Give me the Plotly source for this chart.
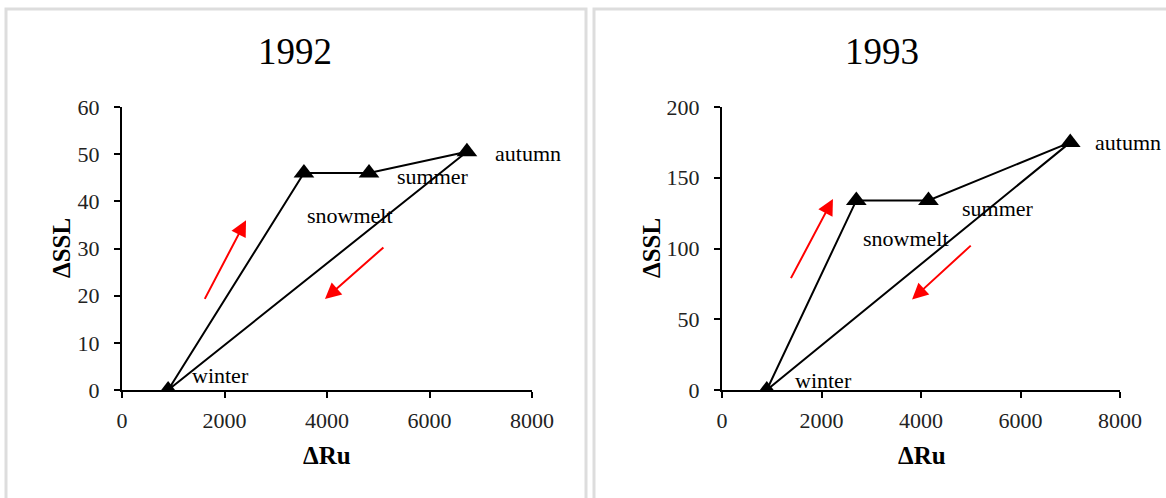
import plotly.graph_objects as go

# ---- data ----
seasons = ["winter", "snowmelt", "summer", "autumn"]
ru_1992 = [900, 3550, 4820, 6730]
ssl_1992 = [0, 46, 46, 50.5]
ru_1993 = [900, 2700, 4150, 7000]
ssl_1993 = [0, 134, 134, 175]

# arrows (tail -> head) in data units
arrows_1992 = [((1600, 19), (2420, 36)), ((5130, 30.5), (3960, 19.3))]
arrows_1993 = [((1370, 78), (2230, 135)), ((5030, 103), (3820, 64))]

# label anchor points (data units, left edge / vertical middle)
labels_1992 = {"winter": (1330, 3), "snowmelt": (3570, 37.1), "summer": (5320, 45.3), "autumn": (7240, 50.2)}
labels_1993 = {"winter": (1430, 7), "snowmelt": (2790, 107), "summer": (4780, 128.6), "autumn": (7460, 174.6)}

x_ticks = [0, 2000, 4000, 6000, 8000]
y_ticks_1992 = [0, 10, 20, 30, 40, 50, 60]
y_ticks_1993 = [0, 50, 100, 150, 200]

FONT = "Liberation Serif, Times New Roman, serif"
W, H = 1166, 498

fig = go.Figure()

def add_loop(xs, ys, xa, ya):
    lx = xs + [xs[0]]
    ly = ys + [ys[0]]
    fig.add_trace(go.Scatter(x=lx, y=ly, mode="lines", line=dict(color="black", width=2),
                             xaxis=xa, yaxis=ya, showlegend=False, hoverinfo="skip"))
    fig.add_trace(go.Scatter(x=xs, y=ys, mode="markers",
                             marker=dict(symbol="triangle-up", size=18, color="black"),
                             xaxis=xa, yaxis=ya, showlegend=False, text=seasons))

add_loop(ru_1992, ssl_1992, "x", "y")
add_loop(ru_1993, ssl_1993, "x2", "y2")

ann = []
def add_arrows(arrs, xr, yr):
    for (tx, ty), (hx, hy) in arrs:
        ann.append(dict(x=hx, y=hy, ax=tx, ay=ty, xref=xr, yref=yr, axref=xr, ayref=yr,
                        showarrow=True, arrowhead=2, arrowsize=1.6, arrowwidth=2,
                        arrowcolor="red", text=""))

def add_labels(labs, xr, yr):
    for name, (lx, ly) in labs.items():
        ann.append(dict(x=lx, y=ly, xref=xr, yref=yr, text=name, showarrow=False,
                        xanchor="left", yanchor="middle",
                        font=dict(family=FONT, size=22, color="black")))

add_arrows(arrows_1992, "x", "y")
add_arrows(arrows_1993, "x2", "y2")
add_labels(labels_1992, "x", "y")
add_labels(labels_1993, "x2", "y2")

# titles
for cx, t in [(295, "1992"), (882, "1993")]:
    ann.append(dict(x=cx / W, y=1 - 52 / H, xref="paper", yref="paper", text=t, showarrow=False,
                    font=dict(family=FONT, size=37, color="black"), xanchor="center", yanchor="middle"))

# axis titles
for cx, ycx in [(327, 61), (922, 651)]:
    ann.append(dict(x=cx / W, y=1 - 455 / H, xref="paper", yref="paper", text="<b>ΔRu</b>", showarrow=False,
                    font=dict(family=FONT, size=25, color="black"), xanchor="center", yanchor="middle"))
    ann.append(dict(x=ycx / W, y=1 - 248 / H, xref="paper", yref="paper", text="<b>ΔSSL</b>", showarrow=False,
                    textangle=-90, font=dict(family=FONT, size=25, color="black"),
                    xanchor="center", yanchor="middle"))

axis_common = dict(showgrid=False, zeroline=False, showline=True, linecolor="black", linewidth=2,
                   ticks="outside", ticklen=6, tickwidth=2, tickcolor="black", automargin=False,
                   tickfont=dict(family=FONT, size=22, color="#222222"))

ydom = [1 - 390 / H, 1 - 107 / H]
fig.update_layout(
    width=W, height=H, margin=dict(l=0, r=0, t=0, b=0, pad=0, autoexpand=False),
    paper_bgcolor="white", plot_bgcolor="white",
    xaxis=dict(domain=[122 / W, 532 / W], range=[0, 8000], tickvals=x_ticks, anchor="y",
               ticklabelstandoff=4, **axis_common),
    yaxis=dict(domain=ydom, range=[0, 60], tickvals=y_ticks_1992, anchor="x",
               ticklabelstandoff=10, **axis_common),
    xaxis2=dict(domain=[722 / W, 1120 / W], range=[0, 8000], tickvals=x_ticks, anchor="y2",
                ticklabelstandoff=4, **axis_common),
    yaxis2=dict(domain=ydom, range=[0, 200], tickvals=y_ticks_1993, anchor="x2",
                ticklabelstandoff=10, **axis_common),
    annotations=ann,
    shapes=[
        dict(type="rect", xref="paper", yref="paper", x0=6 / W, x1=586 / W, y0=-0.05, y1=1 - 9 / H,
             line=dict(color="#dddddd", width=3), layer="below"),
        dict(type="rect", xref="paper", yref="paper", x0=594 / W, x1=1.05, y0=-0.05, y1=1 - 9 / H,
             line=dict(color="#dddddd", width=3), layer="below"),
    ],
)

fig.write_html("out.html")
